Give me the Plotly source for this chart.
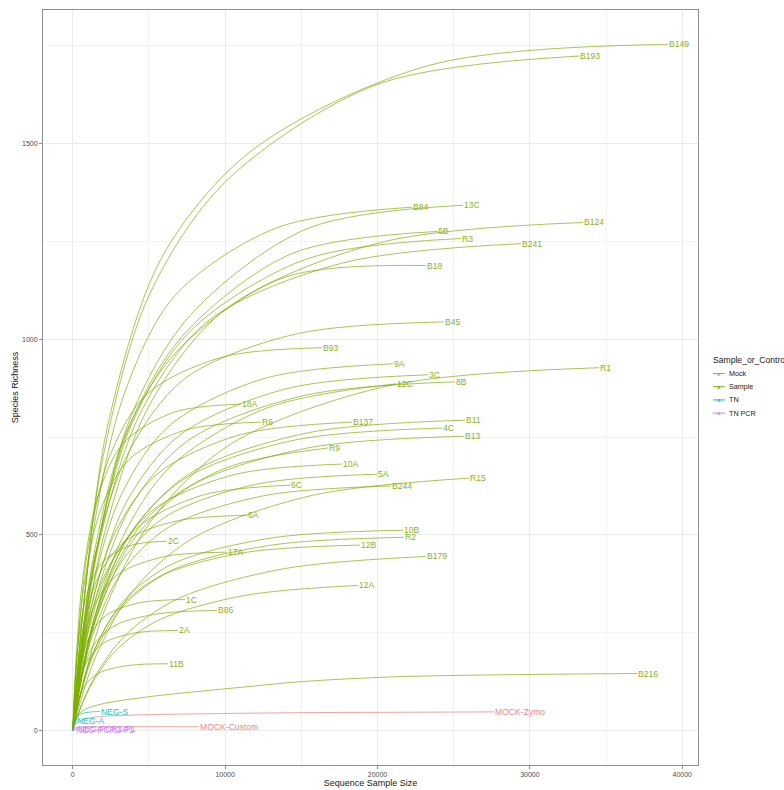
import plotly.graph_objects as go

# ---------------- data ----------------
group_names = ["Mock", "Sample", "TN", "TN PCR"]
group_colors = ["#F8766D", "#7CAE00", "#00BFC4", "#C77CFF"]

sample_names = [
    "B149", "B193", "B84", "13C", "B124", "6B", "R3", "B241", "B18", "B45",
    "B93", "9A", "3C", "12C", "8B", "R1", "18A", "R6", "B137", "B11",
    "4C", "B13", "R9", "10A", "5A", "R15", "6C", "B244", "6A", "2C",
    "17A", "10B", "R2", "12B", "B179", "12A", "1C", "B86", "2A", "11B",
    "B216", "MOCK-Zymo", "MOCK-Custom", "NEG-S", "NEG-A", "NEG-PCR2-P1", "NEG-PCR1-P1",
]
sample_groups = ["Sample"] * 41 + ["Mock", "Mock", "TN", "TN", "TN PCR", "TN PCR"]

curve_x = [
    [0, 782, 2345, 5862, 11724, 23448, 39080],      # B149
    [0, 665, 1994, 4985, 9970, 19941, 33235],       # B193
    [0, 445, 1336, 3340, 6680, 13360, 22266],       # B84
    [0, 512, 1537, 3842, 7685, 15370, 25616],       # 13C
    [0, 670, 2010, 5025, 10049, 20099, 33498],      # B124
    [0, 478, 1434, 3586, 7172, 14345, 23908],       # 6B
    [0, 510, 1529, 3823, 7645, 15290, 25484],       # R3
    [0, 589, 1766, 4414, 8828, 17655, 29425],       # B241
    [0, 464, 1391, 3478, 6956, 13912, 23186],       # B18
    [0, 487, 1462, 3655, 7310, 14621, 24368],       # B45
    [0, 327, 981, 2453, 4907, 9813, 16355],         # B93
    [0, 420, 1261, 3153, 6305, 12611, 21018],       # 9A
    [0, 466, 1399, 3498, 6995, 13990, 23317],       # 3C
    [0, 424, 1273, 3182, 6365, 12729, 21215],       # 12C
    [0, 502, 1505, 3764, 7527, 15054, 25090],       # 8B
    [0, 691, 2073, 5182, 10364, 20729, 34548],      # R1
    [0, 221, 662, 1655, 3310, 6620, 11034],         # 18A
    [0, 247, 741, 1852, 3704, 7409, 12348],         # R6
    [0, 367, 1100, 2749, 5498, 10995, 18325],       # B137
    [0, 515, 1545, 3862, 7724, 15448, 25747],       # B11
    [0, 485, 1454, 3635, 7271, 14542, 24236],       # 4C
    [0, 514, 1541, 3852, 7704, 15409, 25681],       # B13
    [0, 335, 1005, 2512, 5025, 10049, 16749],       # R9
    [0, 353, 1060, 2650, 5300, 10601, 17668],       # 10A
    [0, 399, 1198, 2995, 5990, 11980, 19967],       # 5A
    [0, 520, 1561, 3902, 7803, 15606, 26010],       # R15
    [0, 285, 855, 2138, 4276, 8552, 14253],         # 6C
    [0, 418, 1253, 3133, 6266, 12532, 20887],       # B244
    [0, 229, 686, 1714, 3429, 6857, 11429],         # 6A
    [0, 123, 370, 926, 1852, 3704, 6174],           # 2C
    [0, 202, 607, 1517, 3035, 6069, 10115],         # 17A
    [0, 434, 1301, 3251, 6503, 13005, 21675],       # 10B
    [0, 435, 1304, 3261, 6522, 13045, 21741],       # R2
    [0, 377, 1131, 2828, 5655, 11311, 18851],       # 12B
    [0, 464, 1391, 3478, 6956, 13912, 23186],       # B179
    [0, 374, 1123, 2808, 5616, 11231, 18719],       # 12A
    [0, 147, 441, 1103, 2207, 4414, 7356],          # 1C
    [0, 189, 567, 1419, 2837, 5675, 9458],          # B86
    [0, 138, 414, 1035, 2069, 4138, 6897],          # 2A
    [0, 125, 374, 936, 1872, 3744, 6240],           # 11B
    [0, 100, 263, 700, 1773, 5057, 11625, 14910, 21480, 37044],  # B216
    [0, 100, 263, 800, 1773, 4000, 8341, 14910, 21480, 27640],   # MOCK-Zymo
    [0, 50, 150, 500, 2000, 8270],                  # MOCK-Custom
    [0, 60, 200, 500, 1000, 1773],                  # NEG-S
    [0, 40, 100, 197],                              # NEG-A
    [0, 40, 100, 150],                              # NEG-PCR2-P1
    [0, 50, 150, 290],                              # NEG-PCR1-P1
]

curve_y = [
    [0, 351, 789, 1210, 1481, 1700, 1753],
    [0, 300, 700, 1110, 1400, 1650, 1723],
    [0, 214, 508, 856, 1110, 1284, 1337],
    [0, 188, 456, 805, 1060, 1282, 1342],
    [0, 208, 493, 831, 1077, 1246, 1298],
    [0, 179, 434, 765, 1007, 1218, 1275],
    [0, 189, 453, 779, 1018, 1204, 1257],
    [0, 199, 485, 809, 1045, 1194, 1244],
    [0, 190, 451, 760, 974, 1158, 1188],
    [0, 198, 449, 710, 898, 1013, 1044],
    [0, 215, 460, 704, 861, 954, 978],
    [0, 150, 356, 600, 778, 900, 937],
    [0, 145, 345, 582, 754, 873, 909],
    [0, 106, 266, 487, 673, 824, 886],
    [0, 143, 339, 570, 740, 855, 891],
    [0, 121, 306, 538, 732, 881, 927],
    [0, 183, 392, 600, 734, 813, 834],
    [0, 173, 370, 567, 693, 768, 788],
    [0, 126, 299, 504, 654, 756, 788],
    [0, 127, 301, 508, 658, 761, 793],
    [0, 124, 294, 495, 642, 742, 773],
    [0, 120, 286, 481, 624, 722, 752],
    [0, 87, 217, 397, 549, 671, 722],
    [0, 109, 259, 436, 565, 654, 681],
    [0, 105, 249, 419, 544, 629, 655],
    [0, 77, 194, 355, 490, 600, 645],
    [0, 100, 238, 401, 520, 602, 627],
    [0, 100, 238, 400, 519, 600, 625],
    [0, 121, 259, 396, 484, 536, 550],
    [0, 106, 227, 348, 426, 472, 484],
    [0, 100, 214, 328, 401, 445, 456],
    [0, 82, 195, 328, 425, 492, 512],
    [0, 79, 188, 316, 410, 474, 494],
    [0, 76, 180, 303, 393, 455, 474],
    [0, 53, 134, 245, 338, 414, 445],
    [0, 45, 111, 204, 282, 345, 371],
    [0, 74, 157, 241, 295, 327, 335],
    [0, 68, 144, 221, 270, 299, 307],
    [0, 56, 120, 184, 225, 250, 256],
    [0, 38, 80, 123, 150, 167, 171],
    [0, 20, 36, 52, 67, 87, 113, 125, 138, 146],
    [0, 12, 20, 30, 36, 40, 43, 46, 47, 48],
    [0, 5, 7, 9, 10, 10],
    [0, 18, 32, 42, 47, 49],
    [0, 14, 22, 26],
    [0, 2, 2, 2],
    [0, 3, 4, 4],
]

x_ticks = [0, 10000, 20000, 30000, 40000]
y_ticks = [0, 500, 1000, 1500]

# ---------------- figure ----------------
FONT = "Liberation Sans, Arial, sans-serif"
color_of = dict(zip(group_names, group_colors))

fig = go.Figure()
annotations = []
for name, grp, xs, ys in zip(sample_names, sample_groups, curve_x, curve_y):
    col = color_of[grp]
    fig.add_trace(go.Scatter(
        x=xs, y=ys, mode="lines", name=grp, legendgroup=grp, showlegend=False,
        opacity=0.85,
        line=dict(color=col, width=0.8, shape="spline", smoothing=0.9),
        hoverinfo="text", text=name,
    ))
    annotations.append(dict(
        x=xs[-1], y=ys[-1], xref="x", yref="y", text=name, showarrow=False,
        xanchor="left", yanchor="middle", borderpad=0, opacity=0.9,
        font=dict(family=FONT, size=8.6, color=col),
    ))

# manual ggplot-style legend (layout decoration)
leg_x0 = 1.0214
leg_title_y = 0.537
leg_step = 13.2 / 755
annotations.append(dict(
    x=leg_x0, y=leg_title_y, xref="paper", yref="paper", text="Sample_or_Control",
    showarrow=False, xanchor="left", yanchor="middle", borderpad=0,
    font=dict(family=FONT, size=8.6, color="#1a1a1a"),
))
shapes = []
for i, (g, c) in enumerate(zip(group_names, group_colors)):
    yy = leg_title_y - 0.0185 - i * leg_step
    shapes.append(dict(type="line", xref="paper", yref="paper",
                       x0=leg_x0 + 0.0015, x1=leg_x0 + 0.0195, y0=yy, y1=yy,
                       line=dict(color=c, width=1)))
    annotations.append(dict(
        x=leg_x0 + 0.0105, y=yy, xref="paper", yref="paper", text="a",
        showarrow=False, xanchor="center", yanchor="middle", borderpad=0,
        font=dict(family=FONT, size=6, color=c),
    ))
    annotations.append(dict(
        x=leg_x0 + 0.0245, y=yy, xref="paper", yref="paper", text=g,
        showarrow=False, xanchor="left", yanchor="middle", borderpad=0,
        font=dict(family=FONT, size=7.2, color="#1a1a1a"),
    ))

axis_common = dict(
    showline=True, mirror=True, linecolor="#8f8f8f", linewidth=1,
    ticks="outside", ticklen=3, tickcolor="#8f8f8f", tickwidth=1,
    showgrid=True, gridcolor="#EBEBEB", gridwidth=1, zeroline=False,
    automargin=False,
    tickfont=dict(family=FONT, size=7, color="#4d4d4d"),
)

fig.update_layout(
    width=784, height=790,
    margin=dict(l=43, r=86, t=10, b=25),
    paper_bgcolor="white", plot_bgcolor="white",
    showlegend=False,
    annotations=annotations,
    shapes=shapes,
    font=dict(family=FONT),
    xaxis=dict(
        **axis_common,
        range=[-1954, 41034],
        tickvals=x_ticks, ticktext=[str(v) for v in x_ticks],
        minor=dict(dtick=5000, tick0=0, showgrid=True, gridcolor="#F3F3F3", ticks=""),
        title=dict(text="Sequence Sample Size", standoff=0,
                   font=dict(family=FONT, size=9, color="#1a1a1a")),
    ),
    yaxis=dict(
        **axis_common,
        range=[-87.65, 1840.65],
        tickvals=y_ticks, ticktext=[str(v) for v in y_ticks],
        minor=dict(dtick=250, tick0=0, showgrid=True, gridcolor="#F3F3F3", ticks=""),
        title=dict(text="Species Richness", standoff=1,
                   font=dict(family=FONT, size=9, color="#1a1a1a")),
    ),
)

fig.write_html(
    "out.html",
    config={"displayModeBar": False},
    post_script="document.body.style.margin='0';document.body.style.overflow='hidden';",
)
